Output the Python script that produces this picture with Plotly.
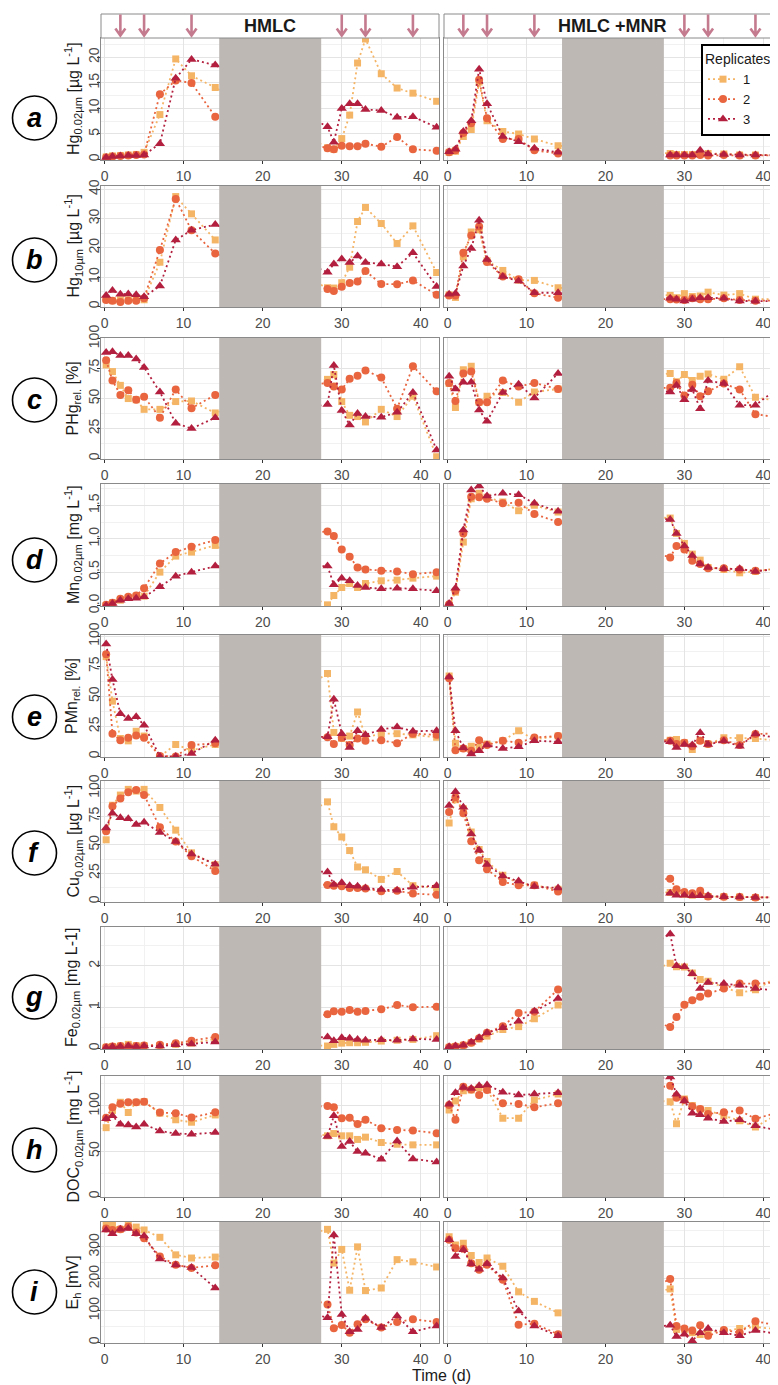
import plotly.graph_objects as go

W, H = 778, 1385
OFF = 8  # page body margin: screen = figure + OFF
FONT = "Liberation Sans, Arial, sans-serif"

# ---------------- data ----------------
T = [0.2, 1, 2, 3, 4, 5, 7, 9, 11, 14, 28.2, 29, 30, 31, 32, 33, 35, 37, 39, 42]
ARROW_DAYS = [2, 5, 11, 30, 33, 39]
GRAY_START, GRAY_END = 14.5, 27.4
CONDITIONS = ["HMLC", "HMLC +MNR"]
REPLICATES = ["1", "2", "3"]

a_hmlc_1 = [0.5, 0.7, 0.8, 0.9, 1.0, 1.4, 8.8, 19.7, 16.4, 14.1, 2.3, 2.0, 4.1, 8.7, 18.9, 23.6, 16.8, 14.0, 13.0, 11.4]
a_hmlc_2 = [0.4, 0.6, 0.7, 0.8, 0.9, 1.0, 12.8, 15.5, 15.0, 8.4, 2.2, 2.0, 2.7, 2.6, 2.6, 3.1, 2.5, 4.4, 2.0, 1.7]
a_hmlc_3 = [0.4, 0.6, 0.7, 0.8, 0.8, 0.9, 3.1, 15.9, 19.6, 18.5, 6.4, 3.4, 10.0, 10.9, 10.9, 9.8, 9.6, 8.3, 8.4, 6.3]
a_mnr_1 = [1.4, 1.6, 4.5, 5.9, 15.2, 7.6, 5.5, 5.0, 4.0, 2.7, 1.2, 1.0, 1.0, 1.0, 1.1, 1.2, 1.1, 0.9, 0.9, 0.9]
a_mnr_2 = [1.4, 1.8, 5.2, 7.1, 15.6, 8.1, 4.0, 4.0, 1.8, 1.2, 0.8, 0.8, 0.8, 0.8, 0.9, 0.8, 0.9, 0.8, 0.8, 0.8]
a_mnr_3 = [1.5, 2.0, 5.5, 7.6, 17.7, 10.9, 4.5, 3.5, 2.2, 1.4, 0.9, 0.9, 0.9, 0.9, 1.8, 1.1, 1.0, 0.9, 0.9, 0.8]

b_hmlc_1 = [2.5, 2.0, 2.3, 2.3, 2.3, 2.3, 15.1, 37.5, 31.6, 22.7, 6.4, 6.3, 8.1, 13.4, 29.0, 33.8, 28.3, 21.5, 27.5, 11.6]
b_hmlc_2 = [2.2, 2.0, 1.5, 2.0, 2.0, 2.8, 19.3, 36.7, 26.0, 18.1, 6.0, 5.3, 6.7, 8.0, 8.5, 12.1, 7.7, 7.6, 8.9, 4.0]
b_hmlc_3 = [3.8, 5.5, 4.2, 4.3, 4.0, 3.3, 7.0, 22.7, 26.0, 28.0, 11.7, 14.5, 16.2, 15.0, 17.2, 15.0, 14.5, 13.6, 18.3, 6.8]
b_mnr_1 = [4.0, 3.1, 16.9, 25.4, 26.2, 15.6, 12.3, 9.0, 8.9, 6.4, 3.8, 3.0, 4.4, 3.4, 3.6, 4.9, 3.9, 4.4, 2.5, 2.5]
b_mnr_2 = [3.8, 3.8, 18.3, 24.2, 27.3, 15.2, 10.2, 9.3, 4.5, 3.0, 2.5, 2.4, 2.2, 2.8, 2.5, 2.5, 2.8, 2.2, 2.0, 2.0]
b_mnr_3 = [4.2, 4.4, 13.8, 19.8, 29.4, 16.0, 10.2, 8.7, 4.7, 4.7, 2.8, 2.5, 1.9, 2.5, 3.0, 3.0, 2.8, 1.9, 1.8, 1.8]

c_hmlc_1 = [78, 72.5, 61, 50, 49, 41, 41, 47.5, 48, 38, 66, 70, 47.5, 36, 35, 30.5, 41, 35, 52, 1.5]
c_hmlc_2 = [82, 65, 53, 57, 49, 51.5, 34, 57.5, 42, 53, 63, 60, 57.5, 66.5, 69, 73.5, 67.5, 41.5, 77, 56]
c_hmlc_3 = [88.5, 89, 86, 86, 83, 76, 55.5, 29.5, 25, 34, 45, 77.5, 40, 28, 37.5, 35, 34.5, 38.5, 55, 7]
c_mnr_1 = [62.5, 42.5, 74, 77, 47, 52, 55, 47, 55.5, 58, 71, 64, 70, 65, 68.5, 70.5, 66, 76.5, 51, 48]
c_mnr_2 = [63, 48, 71, 72.5, 47, 47, 65, 60, 63, 58, 59, 63, 52.5, 61.5, 52, 56, 62.5, 57.5, 37, 34]
c_mnr_3 = [68.5, 58, 63.5, 63.5, 40.5, 31, 55, 62, 50.5, 71, 55.5, 61, 49, 57.5, 41.5, 65, 62.5, 44.5, 44.5, 59.5]

d_hmlc_1 = [0.0, 0.04, 0.08, 0.12, 0.14, 0.14, 0.50, 0.74, 0.80, 0.90, 0.01, 0.15, 0.27, 0.33, 0.27, 0.33, 0.37, 0.38, 0.41, 0.44]
d_hmlc_2 = [0.01, 0.04, 0.10, 0.13, 0.15, 0.26, 0.63, 0.80, 0.88, 0.98, 1.11, 1.04, 0.84, 0.73, 0.57, 0.54, 0.52, 0.51, 0.47, 0.50]
d_hmlc_3 = [0.0, 0.03, 0.08, 0.10, 0.11, 0.13, 0.28, 0.44, 0.50, 0.59, 0.59, 0.31, 0.41, 0.37, 0.30, 0.27, 0.25, 0.26, 0.25, 0.22]
d_mnr_1 = [0.0, 0.20, 0.95, 1.60, 1.68, 1.62, 1.55, 1.42, 1.50, 1.40, 1.31, 1.08, 0.93, 0.77, 0.68, 0.57, 0.54, 0.49, 0.51, 0.56]
d_mnr_2 = [0.02, 0.22, 1.08, 1.63, 1.62, 1.60, 1.53, 1.54, 1.37, 1.25, 0.72, 0.89, 0.84, 0.67, 0.62, 0.56, 0.56, 0.54, 0.52, 0.55]
d_mnr_3 = [0.03, 0.26, 1.13, 1.73, 1.79, 1.64, 1.68, 1.66, 1.53, 1.41, 1.29, 1.08, 0.89, 0.75, 0.62, 0.57, 0.55, 0.55, 0.51, 0.55]

e_hmlc_1 = [83, 46, 15, 13, 21, 17, 0, 10, 5, 10, 69, 20, 15, 17, 37, 16, 19, 19, 18, 16]
e_hmlc_2 = [85, 19, 13.5, 15.5, 17.5, 15.5, 0.5, 0, 9.5, 11, 16, 10.5, 15.5, 9.5, 15, 13, 13.5, 11, 19, 18]
e_hmlc_3 = [93.5, 64, 35.5, 31.5, 33, 26, 0, 0, 2.5, 13.5, 16.5, 47.5, 19, 7.5, 21.5, 18, 22.5, 24.5, 21, 21.5]
e_mnr_1 = [67, 11, 6.7, 8.6, 7.5, 10.3, 13.1, 21.4, 14.2, 17, 13.6, 14.2, 11.4, 5.8, 13.6, 10.3, 15.6, 15.6, 15, 13.1]
e_mnr_2 = [65, 5.3, 6.7, 4.7, 13.6, 9.5, 13.1, 11.4, 15.9, 17, 13.1, 10.3, 11.4, 8.6, 13.1, 10.3, 13.6, 9.5, 18.7, 19.2]
e_mnr_3 = [66, 21.4, 7.2, 2.0, 4.7, 9.5, 6.7, 8.1, 13.1, 12.3, 12.3, 7.5, 10, 9.5, 19.8, 10, 12.8, 8.6, 18.7, 15]

f_hmlc_1 = [54.5, 85, 94, 99, 97.5, 99, 83, 63, 43, 32.5, 88, 66, 57, 45, 30.5, 28, 19.5, 26.5, 14, 12]
f_hmlc_2 = [62, 84, 91, 96.5, 98.5, 94, 65.5, 53, 40, 27, 14.5, 14, 13.5, 12, 12, 11.5, 9, 9.5, 7, 6]
f_hmlc_3 = [65, 78, 74, 73, 68, 70, 61, 53, 42, 33, 26, 15, 16.5, 14, 13.5, 12, 10.5, 10, 12.5, 14]
f_mnr_1 = [69.3, 89.8, 81.9, 61.4, 45.9, 35.4, 23.1, 16.1, 14.3, 10.8, 7.9, 7.9, 6.4, 5.6, 6.4, 4.4, 4.1, 4.0, 3.5, 3.5]
f_mnr_2 = [79, 92, 78, 53.2, 36.5, 28.4, 17.3, 14.3, 14.3, 8.8, 20.2, 10.8, 8.5, 7.3, 9.4, 4.4, 4.1, 4.0, 3.5, 3.5]
f_mnr_3 = [84.8, 97, 83.3, 59.6, 45.3, 32.7, 22.5, 18.1, 13.2, 12, 7.3, 5.6, 5.6, 5.0, 5.0, 5.0, 4.1, 4.0, 3.5, 3.5]

g_hmlc_1 = [0.03, 0.05, 0.06, 0.10, 0.07, 0.07, 0.07, 0.10, 0.13, 0.23, 0.06, 0.10, 0.13, 0.14, 0.14, 0.15, 0.18, 0.20, 0.22, 0.31]
g_hmlc_2 = [0.03, 0.05, 0.06, 0.06, 0.06, 0.07, 0.09, 0.13, 0.19, 0.28, 0.83, 0.90, 0.89, 0.93, 0.89, 0.91, 0.95, 1.05, 1.00, 1.01]
g_hmlc_3 = [0.02, 0.04, 0.05, 0.06, 0.05, 0.06, 0.06, 0.09, 0.11, 0.16, 0.28, 0.19, 0.26, 0.25, 0.22, 0.20, 0.21, 0.20, 0.23, 0.22]
g_mnr_1 = [0.03, 0.05, 0.08, 0.14, 0.23, 0.30, 0.46, 0.53, 0.72, 1.05, 2.06, 1.98, 1.97, 1.83, 1.67, 1.63, 1.48, 1.35, 1.42, 1.76]
g_mnr_2 = [0.03, 0.05, 0.08, 0.14, 0.25, 0.38, 0.54, 0.86, 0.89, 1.43, 0.52, 0.76, 1.06, 1.17, 1.25, 1.33, 1.45, 1.57, 1.57, 1.60]
g_mnr_3 = [0.04, 0.06, 0.08, 0.15, 0.26, 0.38, 0.50, 0.66, 0.90, 1.21, 2.77, 2.00, 1.98, 1.81, 1.45, 1.60, 1.57, 1.53, 1.45, 1.40]

h_hmlc_1 = [76, 95, 104, 92.7, 104, 104.7, 92, 84.7, 82, 90, 67, 69.5, 67, 67, 63, 65.5, 59.6, 57.7, 57, 57]
h_hmlc_2 = [87, 98.5, 102.5, 104, 104, 104.5, 92.6, 91.9, 87.1, 93, 100, 98.5, 86.4, 87, 80, 84.6, 75.4, 73.5, 72.8, 69.9]
h_hmlc_3 = [85.7, 89, 79.8, 79, 76.8, 79.8, 72.4, 69.5, 68.8, 70.6, 66.2, 89, 55.1, 60.7, 49.6, 47.8, 41.2, 61.4, 41.5, 38.2]
h_mnr_1 = [95.6, 105.5, 116.8, 117.5, 120, 118.6, 86.5, 86.5, 106.6, 113, 104.7, 80.3, 107.7, 100.4, 96.4, 94.9, 89, 83.6, 76.6, 92]
h_mnr_2 = [101, 84.7, 121, 118.2, 112, 117.5, 103, 102.2, 98.5, 103, 122.3, 109, 106.6, 99.3, 96.7, 91.2, 93, 94.9, 85.8, 93]
h_mnr_3 = [101.8, 114.6, 120.4, 119.3, 122.3, 123, 115, 112, 113.1, 114.6, 132, 112.8, 105.5, 92, 90.1, 86.5, 82.8, 84.7, 78.1, 72.6]

i_hmlc_1 = [368, 368, 355, 368, 362, 353, 330, 275, 265, 268, 355, 249, 292, 164, 300, 163, 171, 260, 253, 237]
i_hmlc_2 = [358, 353, 355, 363, 345, 327, 270, 244, 234, 242, 119, 45, 55, 31, 57, 73, 47, 64, 73, 64]
i_hmlc_3 = [353, 341, 355, 358, 341, 334, 262, 243, 235, 171, 78, 337, 88, 34, 41, 76, 47, 83, 34, 52]
i_mnr_1 = [332, 306, 311, 273, 251, 265, 239, 159, 129, 93, 168, 41, 41, 31, 25, 34, 36, 44, 49, 41]
i_mnr_2 = [322, 296, 294, 249, 228, 244, 197, 56, 59, 26, 199, 52, 44, 38, 54, 21, 39, 31, 67, 52]
i_mnr_3 = [322, 270, 291, 246, 230, 247, 202, 99, 52, 21, 54, 19, 26, 5, 31, 44, 31, 21, 38, 26]

PANEL_LETTERS = ["a", "b", "c", "d", "e", "f", "g", "h", "i"]
Y_TITLES = [
    "Hg<sub>0.02µm</sub> [µg L<sup>-1</sup>]",
    "Hg<sub>10µm</sub> [µg L<sup>-1</sup>]",
    "PHg<sub>rel.</sub> [%]",
    "Mn<sub>0.02µm</sub> [mg L<sup>-1</sup>]",
    "PMn<sub>rel.</sub> [%]",
    "Cu<sub>0.02µm</sub> [µg L<sup>-1</sup>]",
    "Fe<sub>0.02µm</sub> [mg L-1]",
    "DOC<sub>0.02µm</sub> [mg L<sup>-1</sup>]",
    "E<sub>h</sub> [mV]",
]
DATA = {
    "a": [[a_hmlc_1, a_hmlc_2, a_hmlc_3], [a_mnr_1, a_mnr_2, a_mnr_3]],
    "b": [[b_hmlc_1, b_hmlc_2, b_hmlc_3], [b_mnr_1, b_mnr_2, b_mnr_3]],
    "c": [[c_hmlc_1, c_hmlc_2, c_hmlc_3], [c_mnr_1, c_mnr_2, c_mnr_3]],
    "d": [[d_hmlc_1, d_hmlc_2, d_hmlc_3], [d_mnr_1, d_mnr_2, d_mnr_3]],
    "e": [[e_hmlc_1, e_hmlc_2, e_hmlc_3], [e_mnr_1, e_mnr_2, e_mnr_3]],
    "f": [[f_hmlc_1, f_hmlc_2, f_hmlc_3], [f_mnr_1, f_mnr_2, f_mnr_3]],
    "g": [[g_hmlc_1, g_hmlc_2, g_hmlc_3], [g_mnr_1, g_mnr_2, g_mnr_3]],
    "h": [[h_hmlc_1, h_hmlc_2, h_hmlc_3], [h_mnr_1, h_mnr_2, h_mnr_3]],
    "i": [[i_hmlc_1, i_hmlc_2, i_hmlc_3], [i_mnr_1, i_mnr_2, i_mnr_3]],
}

# ---------------- styling / layout (screen pixel coordinates) ----------------
Y_MAX = [23.8, 41.1, 100.5, 1.82, 101, 106.4, 2.94, 133, 378]
Y_DTICK = [5, 10, 25, 0.5, 25, 25, 1, 50, 100]
Y_FMT = ["", "", "", ".1f", "", "", "", "", ""]
PANEL_TOP = [38, 186, 338, 484, 635, 781, 927, 1076, 1222]
PANEL_BOT = [160, 307, 459, 606, 757, 902, 1049, 1197, 1343]
CIRCLE_Y = [118, 260, 400, 560, 717, 853, 997, 1150, 1292]
X_DOM_PX = [(101, 439), (444, 781.5)]
X_RANGE = [-0.45, 42.3]

COLORS = ["#F5B567", "#E8653F", "#B3203F"]
SYMBOLS = ["square", "circle", "triangle-up"]
SIZES = [7, 8, 9]
GRAY = "#BDB8B4"
BORDER = "#8a8a8a"
ARROW_COLOR = "#C57B8F"
TICK_COLOR = "#4d4d4d"


def px(xs):
    return (xs - OFF) / W


def py(ys):
    return 1 - (ys - OFF) / H


def ax_id(n):
    return "" if n == 1 else str(n)


fig = go.Figure()
layout = dict(
    width=W, height=H,
    margin=dict(l=0, r=0, t=0, b=0, autoexpand=False),
    paper_bgcolor="white", plot_bgcolor="white",
    font=dict(family=FONT, color="#1a1a1a"),
    showlegend=True,
    legend=dict(
        x=px(775), y=py(44), xanchor="right", yanchor="top",
        bgcolor="white", bordercolor="black", borderwidth=2,
        font=dict(size=13, family=FONT, color="#1a1a1a"),
        title=dict(text="Replicates", font=dict(size=14, family=FONT, color="#1a1a1a")),
        tracegroupgap=0, itemwidth=30,
    ),
)
shapes, annotations = [], []

for p, letter in enumerate(PANEL_LETTERS):
    ydom = [py(PANEL_BOT[p]), py(PANEL_TOP[p])]
    for s in range(2):
        n = p * 2 + s + 1
        k = ax_id(n)
        x_end = min(W + OFF, X_DOM_PX[s][1])
        layout[f"xaxis{k}"] = dict(
            domain=[px(X_DOM_PX[s][0]), px(x_end)],
            range=[X_RANGE[0], X_RANGE[0] + (x_end - X_DOM_PX[s][0]) / (X_DOM_PX[s][1] - X_DOM_PX[s][0]) * (X_RANGE[1] - X_RANGE[0])],
            anchor=f"y{k}", tickvals=[0, 10, 20, 30, 40],
            ticks="outside", ticklen=3, tickcolor="#333", tickwidth=1,
            tickfont=dict(size=14, color=TICK_COLOR, family=FONT),
            showgrid=True, gridcolor="#E4E4E4", gridwidth=1,
            minor=dict(dtick=5, tick0=0, showgrid=True, gridcolor="#F1F1F1", gridwidth=0.6),
            showline=True, linecolor=BORDER, linewidth=1, mirror=True, zeroline=False,
        )
        layout[f"yaxis{k}"] = dict(
            domain=ydom, range=[-0.004 * Y_MAX[p], Y_MAX[p]], anchor=f"x{k}",
            dtick=Y_DTICK[p], tick0=0, tickformat=Y_FMT[p], tickangle=-90,
            showticklabels=(s == 0), ticks="outside" if s == 0 else "",
            ticklen=3, tickcolor="#333", ticklabelstandoff=-8,
            tickfont=dict(size=14, color=TICK_COLOR, family=FONT),
            showgrid=True, gridcolor="#E4E4E4", gridwidth=1,
            minor=dict(dtick=Y_DTICK[p] / 2, tick0=0, showgrid=True, gridcolor="#F1F1F1", gridwidth=0.6),
            showline=True, linecolor=BORDER, linewidth=1, mirror=(s == 0), zeroline=False,
        )
        for r in range(3):
            fig.add_trace(go.Scatter(
                x=T, y=DATA[letter][s][r], xaxis=f"x{k}", yaxis=f"y{k}",
                mode="lines+markers", name=REPLICATES[r], legendgroup=REPLICATES[r],
                showlegend=(n == 1),
                line=dict(color=COLORS[r], width=1.8, dash="2px,3px"),
                marker=dict(symbol=SYMBOLS[r], size=SIZES[r], color=COLORS[r], line=dict(width=0)),
                hoverinfo="skip",
            ))
        shapes.append(dict(
            type="rect", xref=f"x{k}", yref=f"y{k} domain",
            x0=GRAY_START, x1=GRAY_END, y0=0, y1=1,
            fillcolor=GRAY, line=dict(width=0), layer="above",
        ))
    # y title
    annotations.append(dict(
        text=Y_TITLES[p], x=px(73), y=py((PANEL_TOP[p] + PANEL_BOT[p]) / 2),
        xref="paper", yref="paper", showarrow=False, textangle=-90,
        xanchor="center", yanchor="middle", font=dict(size=16, family=FONT, color="#1a1a1a"),
    ))
    # letter circle
    cy = CIRCLE_Y[p]
    shapes.append(dict(
        type="circle", xref="paper", yref="paper",
        x0=px(34.5 - 22), x1=px(34.5 + 22), y0=py(cy + 22), y1=py(cy - 22),
        line=dict(color="black", width=1.6), fillcolor="white", layer="above",
    ))
    annotations.append(dict(
        text=f"<b><i>{letter}</i></b>", x=px(34.5), y=py(cy),
        xref="paper", yref="paper", showarrow=False, xanchor="center", yanchor="middle",
        font=dict(size=27, family=FONT, color="black"),
    ))

# strips with condition titles and arrows
for s in range(2):
    x0p, x1p = X_DOM_PX[s]
    shapes.append(dict(
        type="rect", xref="paper", yref="paper",
        x0=px(x0p), x1=px(x1p), y0=py(38), y1=py(14),
        fillcolor="white", line=dict(color=BORDER, width=1), layer="above",
    ))
    annotations.append(dict(
        text=f"<b>{CONDITIONS[s]}</b>", x=px((x0p + x1p) / 2), y=py(26.5),
        xref="paper", yref="paper", showarrow=False, xanchor="center", yanchor="middle",
        font=dict(size=18, family=FONT, color="#1a1a1a"),
    ))
    for day in ARROW_DAYS:
        shapes.append(dict(
            type="path", xref=f"x{ax_id(s + 1)}", yref="paper",
            xsizemode="pixel", xanchor=day, ysizemode="pixel", yanchor=py(36.5),
            path="M0,1 L0,22 M-5,8 L0,1 L5,8",
            line=dict(color=ARROW_COLOR, width=2.6), layer="above",
        ))

annotations.append(dict(
    text="Time (d)", x=px(441), y=py(1375), xref="paper", yref="paper",
    showarrow=False, xanchor="center", yanchor="middle",
    font=dict(size=16, family=FONT, color="#1a1a1a"),
))

layout["shapes"] = shapes
layout["annotations"] = annotations
fig.update_layout(**layout)
fig.write_html("out.html")
